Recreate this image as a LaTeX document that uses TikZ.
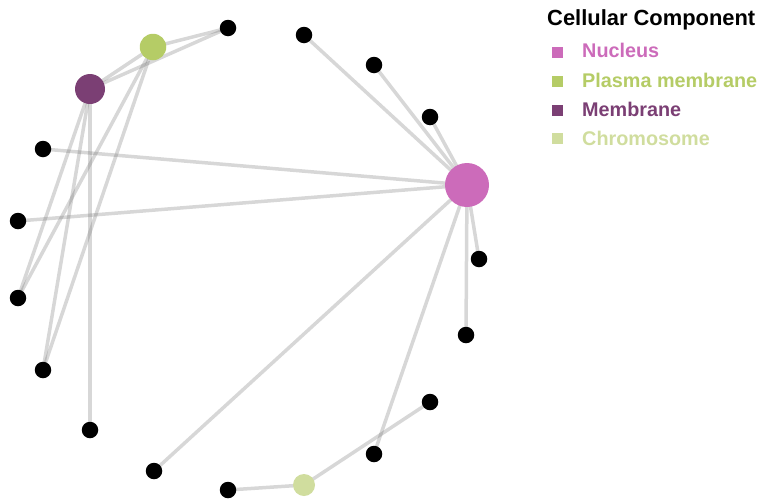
\documentclass[tikz,border=0pt]{standalone}
\usepackage{fontspec}
\setmainfont{Liberation Sans}
\usetikzlibrary{backgrounds}
\definecolor{nucleus}{HTML}{CC6BBA}
\definecolor{plasma}{HTML}{B5CC66}
\definecolor{membrane}{HTML}{7B3F74}
\definecolor{chromo}{HTML}{D0DD9E}
\tikzset{
  gene/.style={circle,fill=black,inner sep=0pt,minimum size=16.5pt},
  term/.style={circle,inner sep=0pt},
  edge/.style={draw=black!60,line width=3.5pt,opacity=0.26},
  legsq/.style={inner sep=0pt,minimum size=11pt},
  legtxt/.style={anchor=base west,font=\bfseries\fontsize{19.8}{22}\selectfont},
}
\begin{document}
\begin{tikzpicture}[x=1pt,y=-1pt]
\useasboundingbox (0,0) rectangle (759,498);
% category nodes
\node[term,fill=nucleus,minimum size=44pt] (nuc) at (467,185) {};
\node[term,fill=membrane,minimum size=30pt] (mem) at (90,89) {};
\node[term,fill=plasma,minimum size=26.5pt] (pla) at (153,47) {};
\node[term,fill=chromo,minimum size=22pt] (chr) at (304,485) {};
% gene nodes
\node[gene] (g1) at (228,28) {};
\node[gene] (g2) at (304,35) {};
\node[gene] (g3) at (374,65) {};
\node[gene] (g4) at (430,117) {};
\node[gene] (g5) at (43,149) {};
\node[gene] (g6) at (18,221) {};
\node[gene] (g7) at (18,298) {};
\node[gene] (g8) at (43,370) {};
\node[gene] (g9) at (90,430) {};
\node[gene] (g10) at (154,471) {};
\node[gene] (g11) at (228,490) {};
\node[gene] (g12) at (374,454) {};
\node[gene] (g13) at (430,402) {};
\node[gene] (g14) at (466,335) {};
\node[gene] (g15) at (479,259) {};
\begin{scope}[on background layer]
\foreach \g in {g2,g3,g4,g5,g6,g15,g14,g12,g10}
  \draw[edge] (nuc.center) -- (\g.center);
\foreach \g in {pla,g1,g7,g8,g9}
  \draw[edge] (mem.center) -- (\g.center);
\foreach \g in {g1,g7,g8}
  \draw[edge] (pla.center) -- (\g.center);
\foreach \g in {g11,g13}
  \draw[edge] (chr.center) -- (\g.center);
\end{scope}
% legend
\node[anchor=base west,font=\bfseries\fontsize{21.9}{24}\selectfont,inner sep=0pt] (title) at (547,25) {Cellular Component};
\node[legsq,fill=nucleus] (s1) at (557.5,52) {};
\node[legsq,fill=plasma] (s2) at (557.5,81) {};
\node[legsq,fill=membrane] (s3) at (557.5,110) {};
\node[legsq,fill=chromo] (s4) at (557.5,138) {};
\node[legtxt,text=nucleus,inner sep=0pt] (t1) at (582,57) {Nucleus};
\node[legtxt,text=plasma,inner sep=0pt] (t2) at (582,87) {Plasma membrane};
\node[legtxt,text=membrane,inner sep=0pt] (t3) at (582,116) {Membrane};
\node[legtxt,text=chromo,inner sep=0pt] (t4) at (582,145) {Chromosome};
\end{tikzpicture}
\end{document}
